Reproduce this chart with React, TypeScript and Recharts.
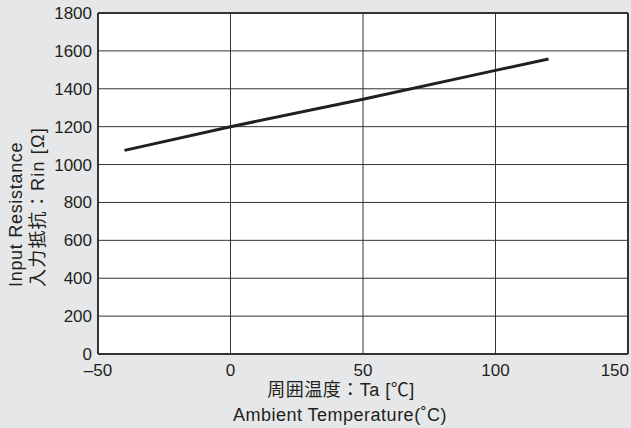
import {
  LineChart,
  Line,
  XAxis,
  YAxis,
  CartesianGrid,
  ReferenceLine,
} from "recharts";

const temperatures = [-40, 0, 50, 100, 120];
const resistance = [1075, 1200, 1345, 1497, 1557];
const xTicks = [-50, 0, 50, 100, 150];
const yTicks = [0, 200, 400, 600, 800, 1000, 1200, 1400, 1600, 1800];

const data = temperatures.map((t, i) => ({ ta: t, rin: resistance[i] }));

const font = "'Liberation Sans', Arial, Helvetica, sans-serif";
const jpFont = "'Liberation Sans', 'Noto Sans CJK JP', sans-serif";
const ink = "#231f20";

function XTick(props: any) {
  const { x, y, payload } = props;
  const v = payload.value;
  const last = v === xTicks[xTicks.length - 1];
  const label = v < 0 ? "\u2013" + Math.abs(v) : String(v);
  return (
    <text
      x={last ? x + 1 : x}
      y={y}
      dy="0.71em"
      textAnchor={last ? "end" : "middle"}
      fill={ink}
      fontSize={17}
      fontFamily={font}
    >
      {label}
    </text>
  );
}

export default function App() {
  return (
    <div
      style={{
        position: "absolute",
        left: 0,
        top: 0,
        width: 631,
        height: 428,
        background: "#e6e7e8",
      }}
    >
      <LineChart
        width={631}
        height={428}
        data={data}
        margin={{ top: 13, right: 3, left: 38, bottom: 0 }}
      >
        <CartesianGrid stroke="#333" strokeWidth={1} fill="#fff" />
        <XAxis
          dataKey="ta"
          type="number"
          domain={[-50, 150]}
          ticks={xTicks}
          interval={0}
          height={74}
          tickSize={0}
          tickMargin={10}
          tick={<XTick />}
          axisLine={{ stroke: "#333", strokeWidth: 2 }}
          allowDataOverflow
        />
        <YAxis
          type="number"
          domain={[0, 1800]}
          ticks={yTicks}
          interval={0}
          width={60}
          tickSize={0}
          tickMargin={6}
          tick={{ fill: ink, fontSize: 17, fontFamily: font }}
          axisLine={{ stroke: "#333", strokeWidth: 2 }}
        />
        <ReferenceLine y={1800} stroke="#333" strokeWidth={2} />
        <ReferenceLine x={150} stroke="#333" strokeWidth={2} />
        <Line
          dataKey="rin"
          stroke={ink}
          strokeWidth={3}
          dot={false}
          isAnimationActive={false}
        />
      </LineChart>
      <svg
        width={631}
        height={428}
        style={{ position: "absolute", left: 0, top: 0, pointerEvents: "none" }}
      >
        <text
          transform="translate(22,287) rotate(-90)"
          textAnchor="start"
          fill={ink}
          fontSize={18}
          letterSpacing={0.7}
          fontFamily={font}
        >
          Input Resistance
        </text>
        <text
          transform="translate(44,287) rotate(-90)"
          textAnchor="start"
          fill={ink}
          fontSize={18}
          letterSpacing={1.2}
          fontFamily={jpFont}
        >
          入力抵抗：Rin [Ω]
        </text>
        <text
          x={341}
          y={396}
          textAnchor="middle"
          fill={ink}
          fontSize={18}
          letterSpacing={0.5}
          fontFamily={jpFont}
        >
          周囲温度：Ta [℃]
        </text>
        <text
          x={340}
          y={421}
          textAnchor="middle"
          fill={ink}
          fontSize={18}
          letterSpacing={0.5}
          fontFamily={font}
        >
          Ambient Temperature(˚C)
        </text>
      </svg>
    </div>
  );
}
